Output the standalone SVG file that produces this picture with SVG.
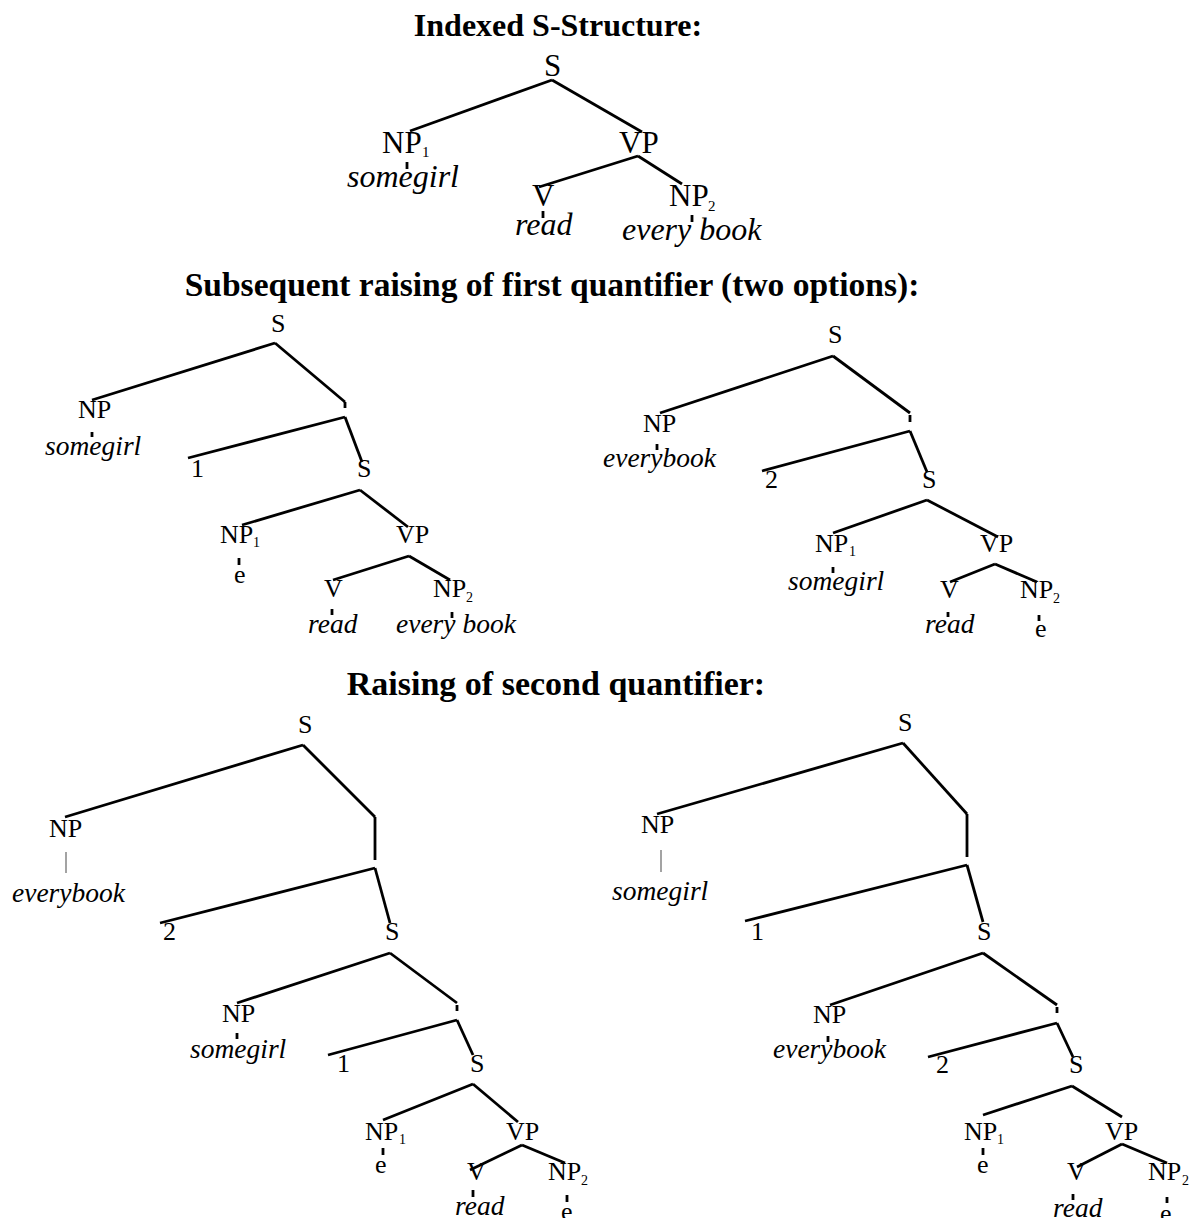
<svg xmlns="http://www.w3.org/2000/svg" width="1197" height="1218" viewBox="0 0 1197 1218">
  <style>
    text { font-family: "Liberation Serif", "Times New Roman", serif; fill: #000; }
    .title { font-size: 32px; font-weight: bold; text-anchor: middle; }
    .big { font-size: 31px; }
    .bigw { font-size: 32px; font-style: italic; }
    .lab { font-size: 26px; }
    .word { font-size: 27.5px; font-style: italic; }
    .sub { font-size: 15px; }
    .subs { font-size: 14px; }
    .edge { stroke: #000; stroke-width: 2.8; fill: none; }
    .tick { stroke: #000; stroke-width: 2.8; }
    .stem { stroke: #666; stroke-width: 1.2; }
  </style>
  <rect width="1197" height="1218" fill="#fff"/>

  <!-- headings -->
  <text class="title" x="558" y="36">Indexed S-Structure:</text>
  <text class="title" x="552" y="296" style="font-size:33.5px">Subsequent raising of first quantifier (two options):</text>
  <text class="title" x="556" y="695" style="font-size:34px">Raising of second quantifier:</text>

  <!-- connectors -->
  <g id="edges">
    <!-- tree A: indexed s-structure -->
    <line class="edge" x1="552" y1="80" x2="410" y2="131"/>
    <line class="edge" x1="552" y1="80" x2="642" y2="132"/>
    <line class="edge" x1="638" y1="156" x2="539" y2="187"/>
    <line class="edge" x1="638" y1="156" x2="682" y2="184"/>
    <line class="tick" x1="407" y1="162" x2="407" y2="169"/>
    <line class="tick" x1="543" y1="211" x2="543" y2="218"/>
    <line class="tick" x1="692" y1="215" x2="692" y2="222"/>

    <!-- tree B: somegirl raised -->
    <line class="edge" x1="275" y1="343" x2="92" y2="400"/>
    <line class="edge" x1="275" y1="343" x2="345" y2="402"/>
    <line class="edge" x1="345" y1="402" x2="345" y2="408"/>
    <line class="edge" x1="345" y1="417" x2="188" y2="458"/>
    <line class="edge" x1="345" y1="417" x2="362" y2="462"/>
    <line class="edge" x1="360" y1="490" x2="242" y2="525"/>
    <line class="edge" x1="360" y1="490" x2="408" y2="527"/>
    <line class="edge" x1="409" y1="556" x2="333" y2="580"/>
    <line class="edge" x1="409" y1="556" x2="450" y2="580"/>
    <line class="tick" x1="92" y1="432" x2="92" y2="437"/>
    <line class="tick" x1="239" y1="558" x2="239" y2="565"/>
    <line class="tick" x1="332" y1="609" x2="332" y2="615"/>
    <line class="tick" x1="452" y1="612" x2="452" y2="618"/>

    <!-- tree C: everybook raised -->
    <line class="edge" x1="833" y1="356" x2="660" y2="413"/>
    <line class="edge" x1="833" y1="356" x2="910" y2="413"/>
    <line class="edge" x1="910" y1="415" x2="910" y2="422"/>
    <line class="edge" x1="910" y1="431" x2="762" y2="471"/>
    <line class="edge" x1="910" y1="431" x2="927" y2="472"/>
    <line class="edge" x1="927" y1="500" x2="833" y2="533"/>
    <line class="edge" x1="927" y1="500" x2="998" y2="537"/>
    <line class="edge" x1="995" y1="564" x2="950" y2="582"/>
    <line class="edge" x1="995" y1="564" x2="1037" y2="582"/>
    <line class="tick" x1="657" y1="444" x2="657" y2="450"/>
    <line class="tick" x1="833" y1="567" x2="833" y2="573"/>
    <line class="tick" x1="948" y1="612" x2="948" y2="617"/>
    <line class="tick" x1="1039" y1="615" x2="1039" y2="621"/>

    <!-- tree D: everybook over somegirl -->
    <line class="edge" x1="303" y1="745" x2="65" y2="817"/>
    <line class="edge" x1="303" y1="745" x2="375" y2="817"/>
    <line class="edge" x1="375" y1="817" x2="375" y2="860"/>
    <line class="edge" x1="375" y1="868" x2="160" y2="923"/>
    <line class="edge" x1="375" y1="868" x2="390" y2="923"/>
    <line class="edge" x1="390" y1="953" x2="237" y2="1003"/>
    <line class="edge" x1="390" y1="953" x2="457" y2="1003"/>
    <line class="edge" x1="457" y1="1005" x2="457" y2="1011"/>
    <line class="edge" x1="457" y1="1020" x2="328" y2="1055"/>
    <line class="edge" x1="457" y1="1020" x2="473" y2="1055"/>
    <line class="edge" x1="473" y1="1084" x2="383" y2="1120"/>
    <line class="edge" x1="473" y1="1084" x2="518" y2="1122"/>
    <line class="edge" x1="522" y1="1145" x2="470" y2="1170"/>
    <line class="edge" x1="522" y1="1145" x2="565" y2="1163"/>
    <line class="stem" x1="66" y1="852" x2="66" y2="873"/>
    <line class="tick" x1="237" y1="1033" x2="237" y2="1039"/>
    <line class="tick" x1="383" y1="1148" x2="383" y2="1155"/>
    <line class="tick" x1="473" y1="1190" x2="473" y2="1197"/>
    <line class="tick" x1="567" y1="1195" x2="567" y2="1202"/>

    <!-- tree E: somegirl over everybook -->
    <line class="edge" x1="903" y1="743" x2="657" y2="814"/>
    <line class="edge" x1="903" y1="743" x2="967" y2="814"/>
    <line class="edge" x1="967" y1="814" x2="967" y2="857"/>
    <line class="edge" x1="967" y1="865" x2="745" y2="921"/>
    <line class="edge" x1="967" y1="865" x2="983" y2="922"/>
    <line class="edge" x1="983" y1="953" x2="830" y2="1005"/>
    <line class="edge" x1="983" y1="953" x2="1057" y2="1005"/>
    <line class="edge" x1="1057" y1="1007" x2="1057" y2="1013"/>
    <line class="edge" x1="1057" y1="1023" x2="928" y2="1057"/>
    <line class="edge" x1="1057" y1="1023" x2="1073" y2="1057"/>
    <line class="edge" x1="1072" y1="1086" x2="983" y2="1115"/>
    <line class="edge" x1="1072" y1="1086" x2="1122" y2="1117"/>
    <line class="edge" x1="1122" y1="1144" x2="1077" y2="1167"/>
    <line class="edge" x1="1122" y1="1144" x2="1167" y2="1163"/>
    <line class="stem" x1="661" y1="850" x2="661" y2="872"/>
    <line class="tick" x1="828" y1="1036" x2="828" y2="1042"/>
    <line class="tick" x1="983" y1="1148" x2="983" y2="1155"/>
    <line class="tick" x1="1073" y1="1194" x2="1073" y2="1200"/>
    <line class="tick" x1="1167" y1="1197" x2="1167" y2="1203"/>
  </g>

  <!-- tree A nodes -->
  <g id="a-s"><text class="big" x="544" y="76">S</text></g>
  <g id="a-np1"><text class="big" x="382" y="153">NP</text><text class="sub" x="422" y="157">1</text></g>
  <g id="a-somegirl"><text class="bigw" x="347" y="187">somegirl</text></g>
  <g id="a-vp"><text class="big" x="619" y="153">VP</text></g>
  <g id="a-v"><text class="big" x="532" y="206">V</text></g>
  <g id="a-read"><text class="bigw" x="515" y="235">read</text></g>
  <g id="a-np2"><text class="big" x="669" y="206">NP</text><text class="sub" x="708" y="211">2</text></g>
  <g id="a-everybook"><text class="bigw" x="622" y="240">every book</text></g>

  <!-- tree B nodes -->
  <g id="b-s"><text class="lab" x="271" y="332">S</text></g>
  <g id="b-np"><text class="lab" x="78" y="418">NP</text></g>
  <g id="b-somegirl"><text class="word" x="45" y="455">somegirl</text></g>
  <g id="b-1"><text class="lab" x="191" y="477">1</text></g>
  <g id="b-s2"><text class="lab" x="357" y="477">S</text></g>
  <g id="b-np1"><text class="lab" x="220" y="543">NP</text><text class="subs" x="253" y="547">1</text></g>
  <g id="b-e1"><text class="lab" x="234" y="583">e</text></g>
  <g id="b-vp"><text class="lab" x="396" y="543">VP</text></g>
  <g id="b-v"><text class="lab" x="324" y="597">V</text></g>
  <g id="b-read"><text class="word" x="308" y="633">read</text></g>
  <g id="b-np2"><text class="lab" x="433" y="597">NP</text><text class="subs" x="466" y="602">2</text></g>
  <g id="b-everybook"><text class="word" x="396" y="633">every book</text></g>

  <!-- tree C nodes -->
  <g id="c-s"><text class="lab" x="828" y="343">S</text></g>
  <g id="c-np"><text class="lab" x="643" y="432">NP</text></g>
  <g id="c-everybook"><text class="word" x="603" y="467">everybook</text></g>
  <g id="c-2"><text class="lab" x="765" y="488">2</text></g>
  <g id="c-s2"><text class="lab" x="922" y="488">S</text></g>
  <g id="c-np1"><text class="lab" x="815" y="552">NP</text><text class="subs" x="849" y="556">1</text></g>
  <g id="c-somegirl"><text class="word" x="788" y="590">somegirl</text></g>
  <g id="c-vp"><text class="lab" x="980" y="552">VP</text></g>
  <g id="c-v"><text class="lab" x="940" y="598">V</text></g>
  <g id="c-read"><text class="word" x="925" y="633">read</text></g>
  <g id="c-np2"><text class="lab" x="1020" y="598">NP</text><text class="subs" x="1053" y="603">2</text></g>
  <g id="c-e2"><text class="lab" x="1035" y="637">e</text></g>

  <!-- tree D nodes -->
  <g id="d-s"><text class="lab" x="298" y="733">S</text></g>
  <g id="d-np"><text class="lab" x="49" y="837">NP</text></g>
  <g id="d-everybook"><text class="word" x="12" y="902">everybook</text></g>
  <g id="d-2"><text class="lab" x="163" y="940">2</text></g>
  <g id="d-s2"><text class="lab" x="385" y="940">S</text></g>
  <g id="d-np-b"><text class="lab" x="222" y="1022">NP</text></g>
  <g id="d-somegirl"><text class="word" x="190" y="1058">somegirl</text></g>
  <g id="d-1"><text class="lab" x="337" y="1072">1</text></g>
  <g id="d-s3"><text class="lab" x="470" y="1072">S</text></g>
  <g id="d-np1"><text class="lab" x="365" y="1140">NP</text><text class="subs" x="399" y="1144">1</text></g>
  <g id="d-e1"><text class="lab" x="375" y="1173">e</text></g>
  <g id="d-vp"><text class="lab" x="506" y="1140">VP</text></g>
  <g id="d-v"><text class="lab" x="467" y="1180">V</text></g>
  <g id="d-read"><text class="word" x="455" y="1215">read</text></g>
  <g id="d-np2"><text class="lab" x="548" y="1180">NP</text><text class="subs" x="581" y="1185">2</text></g>
  <g id="d-e2"><text class="lab" x="561" y="1220">e</text></g>

  <!-- tree E nodes -->
  <g id="e-s"><text class="lab" x="898" y="731">S</text></g>
  <g id="e-np"><text class="lab" x="641" y="833">NP</text></g>
  <g id="e-somegirl"><text class="word" x="612" y="900">somegirl</text></g>
  <g id="e-1"><text class="lab" x="751" y="940">1</text></g>
  <g id="e-s2"><text class="lab" x="977" y="940">S</text></g>
  <g id="e-np-b"><text class="lab" x="813" y="1023">NP</text></g>
  <g id="e-everybook"><text class="word" x="773" y="1058">everybook</text></g>
  <g id="e-2"><text class="lab" x="936" y="1073">2</text></g>
  <g id="e-s3"><text class="lab" x="1069" y="1073">S</text></g>
  <g id="e-np1"><text class="lab" x="964" y="1140">NP</text><text class="subs" x="997" y="1144">1</text></g>
  <g id="e-e1"><text class="lab" x="977" y="1173">e</text></g>
  <g id="e-vp"><text class="lab" x="1105" y="1140">VP</text></g>
  <g id="e-v"><text class="lab" x="1067" y="1180">V</text></g>
  <g id="e-read"><text class="word" x="1053" y="1217">read</text></g>
  <g id="e-np2"><text class="lab" x="1148" y="1180">NP</text><text class="subs" x="1182" y="1185">2</text></g>
  <g id="e-e2"><text class="lab" x="1160" y="1222">e</text></g>
</svg>
